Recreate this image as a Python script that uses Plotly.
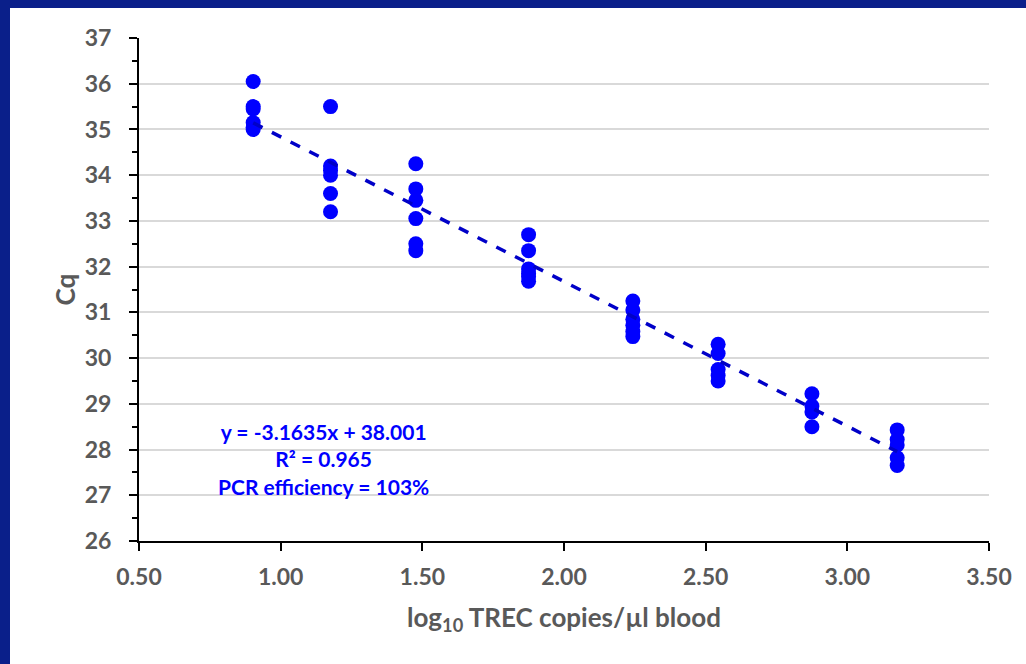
import plotly.graph_objects as go

# Data (log10 TREC copies/µl blood, Cq)
x_levels = [0.903, 1.176, 1.477, 1.875, 2.243, 2.544, 2.875, 3.176]
cq_groups = [
    [36.05, 35.5, 35.45, 35.15, 35.05, 35.0],
    [35.5, 34.2, 34.1, 34.0, 33.6, 33.2],
    [34.25, 33.7, 33.45, 33.05, 32.5, 32.35],
    [32.7, 32.35, 31.95, 31.85, 31.78, 31.68],
    [31.25, 31.05, 30.85, 30.72, 30.58, 30.47],
    [30.3, 30.1, 29.75, 29.62, 29.5],
    [29.22, 28.95, 28.82, 28.5],
    [28.43, 28.22, 28.1, 27.82, 27.65],
]
slope = -3.1635
intercept = 38.001
fit_label = ["y = -3.1635x + 38.001", "R² = 0.965", "PCR efficiency = 103%"]
x_ticks = [0.5, 1.0, 1.5, 2.0, 2.5, 3.0, 3.5]

xs, ys = [], []
for xv, grp in zip(x_levels, cq_groups):
    for c in grp:
        xs.append(xv)
        ys.append(c)

fit_x = [min(x_levels), max(x_levels)]
fit_y = [slope * v + intercept for v in fit_x]

GRAY = "#595959"
FONT = "Lato"

fig = go.Figure()
fig.add_trace(go.Scatter(
    x=xs, y=ys, mode="markers",
    marker=dict(size=15, color="#0000FF", line=dict(width=0)),
    showlegend=False, hoverinfo="x+y",
))
fig.add_trace(go.Scatter(
    x=fit_x, y=fit_y, mode="lines",
    line=dict(color="#0000C8", width=3.5, dash="dash"),
    showlegend=False, hoverinfo="skip",
))

W, H = 1026, 664
L, R, T, B = 139, 37, 38, 123
PW, PH = W - L - R, H - T - B

def px_x(p):
    return (p - L) / PW

def px_y(p):
    return (H - B - p) / PH

BORDER = "#0a1f8a"
shapes = [
    dict(type="rect", xref="paper", yref="paper",
         x0=px_x(0), x1=px_x(W), y0=px_y(8), y1=px_y(0),
         fillcolor=BORDER, line=dict(width=0), layer="above"),
    dict(type="rect", xref="paper", yref="paper",
         x0=px_x(0), x1=px_x(10), y0=px_y(H), y1=px_y(0),
         fillcolor=BORDER, line=dict(width=0), layer="above"),
]

fig.add_annotation(
    x=px_x(323), y=px_y(459), xref="paper", yref="paper",
    xanchor="center", yanchor="middle",
    text="<br>".join(fit_label), showarrow=False, align="center",
    font=dict(family=FONT, size=21, color="#0000FF", weight="bold"),
)

fig.update_layout(
    width=W, height=H,
    margin=dict(l=L, r=R, t=T, b=B, pad=0),
    paper_bgcolor="white", plot_bgcolor="white",
    shapes=shapes,
    font=dict(family=FONT, color=GRAY),
    xaxis=dict(
        range=[0.5, 3.5], tickvals=x_ticks, tickformat=".2f",
        showgrid=False, zeroline=False,
        showline=True, linecolor="black", linewidth=2,
        ticks="outside", ticklen=8, tickwidth=2, tickcolor="black",
        ticklabelstandoff=6,
        tickfont=dict(family=FONT, size=23, color=GRAY, weight="bold"),
        title=dict(text="log<sub>10</sub> TREC copies/µl blood", standoff=20,
                   font=dict(family=FONT, size=26, color=GRAY, weight="bold")),
    ),
    yaxis=dict(
        range=[26, 37], dtick=1,
        showgrid=True, gridcolor="#D9D9D9", gridwidth=1.5, zeroline=False,
        showline=True, linecolor="black", linewidth=2,
        ticks="outside", ticklen=8, tickwidth=2, tickcolor="black",
        ticklabelstandoff=13,
        minor=dict(dtick=0.5, ticks="outside", ticklen=5, tickwidth=2,
                   tickcolor="black", showgrid=False),
        tickfont=dict(family=FONT, size=23, color=GRAY, weight="bold"),
        title=dict(text="Cq", standoff=2,
                   font=dict(family=FONT, size=26, color=GRAY, weight="bold")),
    ),
)

fig.write_html("out.html")
